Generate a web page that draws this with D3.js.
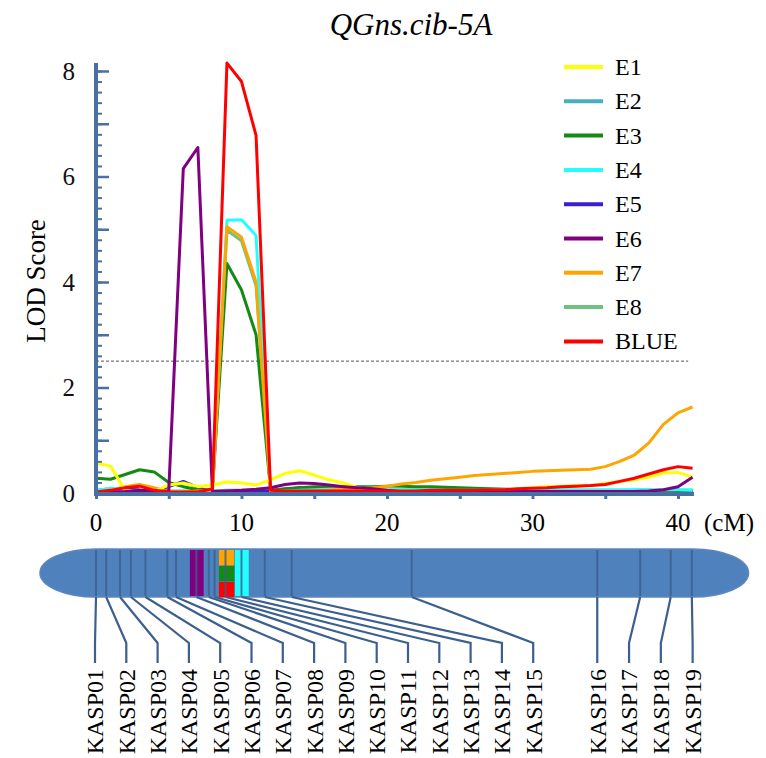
<!DOCTYPE html>
<html>
<head>
<meta charset="utf-8">
<title>QGns.cib-5A</title>
<script src="https://cdn.jsdelivr.net/npm/d3@7"></script>
<style>
  body { margin: 0; background: #fff; }
</style>
</head>
<body>
<div id="chart"></div>
<script>
// map positions (cM) where LOD was scanned
var cM = [0,1,2,3,4,5,6,7,8,9,10,11,12,13,14,15,16,17,18,19,20,
          21,22,23,24,25,26,27,28,29,30,31,32,33,34,35,36,37,38,39,40,41];

// LOD profiles, one per environment
var E1 = [0.57,0.51,0.05,0.01,0.03,0.15,0.19,0.12,0.15,0.21,0.19,0.15,0.25,0.37,0.42,0.34,0.25,0.19,0.10,0.06,0.05,
          0.04,0.03,0.03,0.03,0.03,0.04,0.05,0.06,0.08,0.10,0.12,0.13,0.14,0.14,0.18,0.22,0.25,0.30,0.38,0.39,0.30];
var E2 = [0.05,0.08,0.06,0.04,0.03,0.03,0.03,0.03,0.04,0.05,0.05,0.05,0.05,0.07,0.08,0.08,0.08,0.08,0.08,0.08,0.08,
          0.07,0.07,0.07,0.07,0.07,0.07,0.07,0.07,0.07,0.06,0.05,0.05,0.05,0.05,0.05,0.05,0.05,0.05,0.05,0.05,0.05];
var E3 = [0.28,0.26,0.35,0.44,0.40,0.20,0.12,0.06,0.05,4.35,3.85,3.00,0.05,0.08,0.10,0.12,0.12,0.12,0.12,0.12,0.13,
          0.13,0.12,0.12,0.11,0.10,0.09,0.08,0.07,0.06,0.05,0.04,0.04,0.04,0.04,0.04,0.04,0.04,0.03,0.03,0.03,0.03];
var E4 = [0.05,0.09,0.06,0.03,0.02,0.03,0.03,0.02,0.03,5.17,5.18,4.88,0.03,0.04,0.05,0.06,0.07,0.07,0.08,0.08,0.08,
          0.07,0.06,0.06,0.05,0.05,0.05,0.05,0.05,0.05,0.05,0.05,0.05,0.05,0.05,0.05,0.05,0.06,0.06,0.06,0.06,0.05];
var E5 = [0.02,0.05,0.08,0.05,0.03,0.12,0.22,0.10,0.02,0.02,0.02,0.03,0.04,0.07,0.10,0.10,0.09,0.08,0.07,0.06,0.05,
          0.04,0.03,0.02,0.02,0.02,0.02,0.02,0.02,0.02,0.02,0.02,0.02,0.02,0.02,0.02,0.02,0.02,0.02,0.02,0.02,0.02];
var E6 = [0.01,0.02,0.03,0.05,0.03,0.04,6.15,6.55,0.03,0.04,0.05,0.07,0.10,0.16,0.19,0.18,0.15,0.12,0.10,0.08,0.05,
          0.03,0.03,0.03,0.03,0.03,0.03,0.03,0.03,0.03,0.03,0.03,0.03,0.03,0.03,0.03,0.03,0.03,0.04,0.06,0.12,0.30];
var E7 = [0.02,0.05,0.12,0.16,0.10,0.02,0.02,0.04,0.05,5.05,4.85,4.00,0.03,0.03,0.03,0.04,0.05,0.07,0.08,0.10,0.13,
          0.17,0.20,0.24,0.27,0.30,0.33,0.35,0.37,0.39,0.41,0.42,0.43,0.44,0.45,0.50,0.60,0.72,0.95,1.30,1.52,1.63];
var E8 = [0.03,0.05,0.07,0.06,0.05,0.04,0.04,0.04,0.05,4.98,4.78,3.93,0.04,0.05,0.06,0.07,0.07,0.07,0.07,0.07,0.07,
          0.06,0.06,0.06,0.06,0.06,0.05,0.05,0.05,0.05,0.05,0.05,0.05,0.05,0.05,0.05,0.05,0.05,0.05,0.05,0.05,0.05];
var BLUE = [0.02,0.05,0.10,0.13,0.05,0.02,0.02,0.02,0.08,8.15,7.80,6.78,0.05,0.04,0.04,0.04,0.04,0.04,0.04,0.04,0.04,
          0.04,0.04,0.05,0.05,0.05,0.05,0.06,0.06,0.08,0.09,0.10,0.12,0.13,0.14,0.16,0.22,0.28,0.36,0.44,0.50,0.47];

var seriesNames  = ["E1","E2","E3","E4","E5","E6","E7","E8","BLUE"];
var seriesColors = ["#ffff00","#4bacc6","#138a13","#22ffff","#3a1fd0","#800080","#ffa500","#70c080","#ff0000"];
var seriesValues = [E1, E2, E3, E4, E5, E6, E7, E8, BLUE];
var drawOrder    = ["E2","E8","E5","E3","E4","E7","E1","E6","BLUE"];

var threshold = 2.5;
var yTicks = [0, 2, 4, 6, 8];
var xTicks = [0, 10, 20, 30, 40];

// KASP markers on the linkage map (cM)
var markerNames = ["KASP01","KASP02","KASP03","KASP04","KASP05","KASP06","KASP07","KASP08","KASP09","KASP10",
                   "KASP11","KASP12","KASP13","KASP14","KASP15","KASP16","KASP17","KASP18","KASP19"];
var markerPos   = [0, 0.7, 1.65, 2.4, 3.4, 4.9, 5.5, 6.9, 7.75, 8.15,
                   8.9, 10.0, 11.6, 13.45, 21.7, 34.45, 37.4, 39.5, 40.95];

// QTL intervals drawn on the chromosome
var qtlStart = [6.45, 8.45, 8.45, 8.45, 9.55];
var qtlEnd   = [7.4, 9.5, 9.5, 9.5, 10.5];
var qtlColor = ["#800080", "#ffa500", "#138a13", "#ff0000", "#22ffff"];
var qtlRow   = [0, 0, 1, 2, 0];   // stacked thirds for the shared interval
var qtlRows  = [1, 3, 3, 3, 1];

var width = 766, height = 758;
var axisColor = "#4a6fa3";
var serif = "'Liberation Serif', 'Times New Roman', Times, 'DejaVu Serif', serif";

var svg = d3.select("#chart").append("svg")
  .attr("width", width)
  .attr("height", height)
  .style("font-family", serif);

var x = d3.scaleLinear().domain([0, 40]).range([96, 678]);
var y = d3.scaleLinear().domain([0, 8]).range([493, 71]);

// title
svg.append("text")
  .attr("x", 411).attr("y", 35)
  .attr("text-anchor", "middle")
  .style("font-family", serif)
  .style("font-style", "italic")
  .style("font-size", "31px")
  .text("QGns.cib-5A");

// y label
svg.append("text")
  .attr("transform", "translate(45," + (y(4) - 1) + ") rotate(-90)")
  .attr("text-anchor", "middle")
  .style("font-family", serif)
  .style("font-size", "27px")
  .text("LOD Score");

// threshold line
svg.append("line")
  .attr("x1", x(0)).attr("x2", x(40.7))
  .attr("y1", y(threshold)).attr("y2", y(threshold))
  .attr("stroke", "#555").attr("stroke-width", 1)
  .attr("stroke-dasharray", "3,2");

// curves
var line = d3.line()
  .x(function(d) { return x(d[0]); })
  .y(function(d) { return y(d[1]); });

drawOrder.forEach(function(name) {
  var i = seriesNames.indexOf(name);
  var pts = cM.map(function(c, j) { return [c, seriesValues[i][j]]; });
  svg.append("path")
    .datum(pts)
    .attr("d", line)
    .attr("fill", "none")
    .attr("stroke", seriesColors[i])
    .attr("stroke-width", 3)
    .attr("stroke-linejoin", "round");
});

// y axis: minor + major ticks pointing inward, labels on the left
var yMinor = d3.range(0, 8.01, 0.2);
svg.append("g")
  .attr("transform", "translate(" + x(0) + ",0)")
  .call(d3.axisRight(y).tickValues(yMinor).tickSize(6).tickFormat(""))
  .call(function(g) { g.select(".domain").remove(); })
  .selectAll("line").attr("stroke", axisColor).attr("stroke-width", 2);
svg.append("g")
  .attr("transform", "translate(" + x(0) + ",0)")
  .call(d3.axisRight(y).tickValues(d3.range(0, 9, 1)).tickSize(13).tickFormat(""))
  .call(function(g) { g.select(".domain").remove(); })
  .selectAll("line").attr("stroke", axisColor).attr("stroke-width", 2.5);
var yAx = svg.append("g")
  .attr("transform", "translate(" + x(0) + ",0)")
  .call(d3.axisLeft(y).tickValues(yTicks).tickSize(0).tickPadding(21).tickFormat(d3.format("d")))
  .attr("font-family", serif).attr("font-size", 25);
yAx.select(".domain").remove();
yAx.selectAll("text").attr("fill", "#111");
svg.append("line")
  .attr("x1", x(0)).attr("x2", x(0))
  .attr("y1", 63).attr("y2", y(0) + 3)
  .attr("stroke", axisColor).attr("stroke-width", 4);

// x axis
svg.append("g")
  .attr("transform", "translate(0," + y(0) + ")")
  .call(d3.axisBottom(x).tickValues(d3.range(0, 41, 1)).tickSize(3).tickFormat(""))
  .call(function(g) { g.select(".domain").remove(); })
  .selectAll("line").attr("stroke", axisColor).attr("stroke-width", 2);
var xAx = svg.append("g")
  .attr("transform", "translate(0," + y(0) + ")")
  .call(d3.axisBottom(x).tickValues(d3.range(0, 41, 5)).tickSize(6).tickFormat(""));
xAx.select(".domain").remove();
xAx.selectAll("line").attr("stroke", axisColor).attr("stroke-width", 3);
svg.append("line")
  .attr("x1", x(0)).attr("x2", x(41.1))
  .attr("y1", y(0) + 1).attr("y2", y(0) + 1)
  .attr("stroke", axisColor).attr("stroke-width", 4);
svg.append("g").selectAll("text")
  .data(xTicks).enter().append("text")
  .attr("x", function(d) { return x(d); })
  .attr("y", 531)
  .attr("text-anchor", "middle")
  .style("font-family", serif)
  .style("font-size", "25px")
  .text(function(d) { return d; });
svg.append("text")
  .attr("x", 704).attr("y", 531)
  .style("font-family", serif)
  .style("font-size", "25px")
  .text("(cM)");

// legend
var legend = svg.append("g");
seriesNames.forEach(function(name, i) {
  var ly = 67 + i * 34.3;
  legend.append("line")
    .attr("x1", 564).attr("x2", 603)
    .attr("y1", ly).attr("y2", ly)
    .attr("stroke", seriesColors[i]).attr("stroke-width", 4);
  legend.append("text")
    .attr("x", 615).attr("y", ly + 8)
    .style("font-family", serif)
    .style("font-size", "24px")
    .text(name);
});

// chromosome
var chrTop = 549, chrBot = 597, cap = 56;
svg.append("rect")
  .attr("x", x(0) - cap).attr("y", chrTop)
  .attr("width", x(41) - x(0) + 2 * cap).attr("height", chrBot - chrTop)
  .attr("rx", cap).attr("ry", (chrBot - chrTop) / 2)
  .attr("fill", "#4f81bd").attr("stroke", "#5b86bf").attr("stroke-width", 1.5);

qtlStart.forEach(function(s, i) {
  var h = (chrBot - chrTop) / qtlRows[i];
  svg.append("rect")
    .attr("x", x(s)).attr("width", x(qtlEnd[i]) - x(s))
    .attr("y", chrTop + 1 + qtlRow[i] * h).attr("height", h - (qtlRows[i] === 1 ? 2 : 0.7))
    .attr("fill", qtlColor[i]);
});

var markColor = "#3c5f8e";
svg.append("g").selectAll("line")
  .data(markerPos).enter().append("line")
  .attr("x1", function(d) { return x(d); }).attr("x2", function(d) { return x(d); })
  .attr("y1", chrTop + 1).attr("y2", chrBot - 1)
  .attr("stroke", markColor).attr("stroke-width", 2).attr("opacity", 0.8);

// connectors to label slots
var slotX = markerPos.map(function(p, i) {
  if (i < 15) return x(0) - 1 + i * 31.3;
  return x(markerPos[15]) + (i - 15) * 31.8;
});
svg.append("g").selectAll("path")
  .data(markerPos).enter().append("path")
  .attr("d", function(d, i) {
    return "M" + x(d) + "," + chrBot + "L" + slotX[i] + ",643L" + slotX[i] + ",663";
  })
  .attr("fill", "none").attr("stroke", markColor).attr("stroke-width", 2.2);

svg.append("g").selectAll("text")
  .data(markerNames).enter().append("text")
  .attr("transform", function(d, i) { return "translate(" + slotX[i] + ",669) rotate(-90)"; })
  .attr("text-anchor", "end")
  .attr("dy", "0.35em")
  .style("font-family", serif)
  .style("font-size", "24px")
  .text(function(d) { return d; });
</script>
</body>
</html>
